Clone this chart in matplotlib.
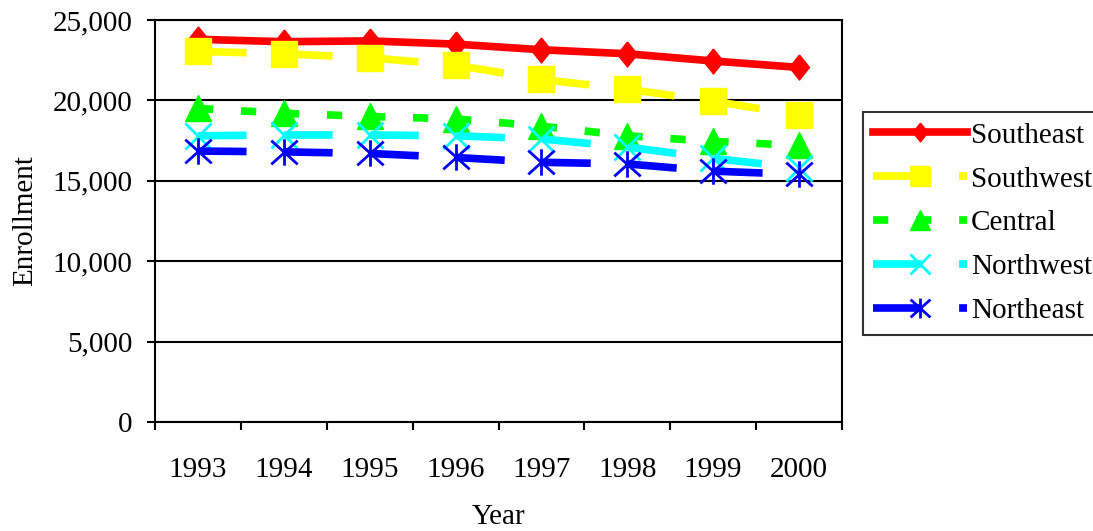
import matplotlib
matplotlib.use('Agg')
import matplotlib.pyplot as plt
from matplotlib.path import Path
from matplotlib.ticker import FuncFormatter, FixedLocator

years = ['1993', '1994', '1995', '1996', '1997', '1998', '1999', '2000']
southeast = [23800, 23650, 23700, 23500, 23150, 22900, 22450, 22050]
southwest = [23050, 22900, 22650, 22200, 21300, 20700, 19950, 19100]
central = [19500, 19200, 19000, 18850, 18400, 17800, 17450, 17200]
northwest = [17800, 17850, 17850, 17800, 17600, 17100, 16400, 15800]
northeast = [16850, 16800, 16700, 16450, 16150, 16050, 15600, 15400]

plt.rcParams['font.family'] = ['Liberation Serif', 'DejaVu Serif']
plt.rcParams['lines.scale_dashes'] = False

# custom marker shapes
diamond = Path([(0, 1), (0.8, 0), (0, -1), (-0.8, 0), (0, 1)])
asterisk = Path([(0, 1), (0, -1), (-1, -0.9), (1, 0.9), (-1, 0.9), (1, -0.9)],
                [Path.MOVETO, Path.LINETO, Path.MOVETO, Path.LINETO,
                 Path.MOVETO, Path.LINETO])

fig = plt.figure(figsize=(10.93, 5.31), dpi=100)
ax = fig.add_axes([155 / 1093, 1 - 422 / 531, 687 / 1093, 402 / 531])

x = range(len(years))
lw = 5.5
ax.plot(x, southeast, color='#FF0000', lw=lw, marker=diamond, ms=18,
        mec='#FF0000', label='Southeast', zorder=3)
ax.plot(x, southwest, color='#FFFF00', lw=lw, dashes=(35, 27), marker='s', ms=19,
        mec='#FFFF00', label='Southwest', zorder=3)
ax.plot(x, central, color='#00FF00', lw=lw, dashes=(11, 20), marker='^', ms=19,
        mec='#00FF00', label='Central', zorder=3)
ax.plot(x, northwest, color='#00FFFF', lw=lw, dashes=(35, 27), marker='x', ms=19,
        mew=2, label='Northwest', zorder=3)
ax.plot(x, northeast, color='#0000FF', lw=lw, dashes=(35, 27), marker=asterisk, ms=19,
        mew=2, label='Northeast', zorder=3)

ax.set_xlim(-0.5, len(years) - 0.5)
ax.set_ylim(0, 25000)
ax.set_xticks(list(x))
ax.set_xticklabels(years)
ax.xaxis.set_minor_locator(FixedLocator([i - 0.5 for i in range(len(years) + 1)]))
ax.tick_params(axis='x', which='major', length=0, pad=25, labelsize=21)
ax.tick_params(axis='x', which='minor', length=6, width=1.5, direction='out')
ax.set_yticks(range(0, 25001, 5000))
ax.yaxis.set_major_formatter(FuncFormatter(lambda v, p: f'{int(v):,}'))
ax.tick_params(axis='y', length=6, width=1.5, direction='out', pad=10, labelsize=21)
ax.grid(axis='y', color='black', lw=1.5)
ax.set_axisbelow(True)
for s in ax.spines.values():
    s.set_linewidth(1.5)
    s.set_color('black')

ax.set_xlabel('Year', fontsize=21)
ax.xaxis.set_label_coords(0.5, -0.205)
ax.set_ylabel('Enrollment', fontsize=21)
ax.yaxis.set_label_coords(-0.17, 0.5)

leg = ax.legend(loc='upper left', bbox_to_anchor=(863 / 1093, 1 - 112 / 531),
                bbox_transform=fig.transFigure, fontsize=21, frameon=True,
                fancybox=False, edgecolor='black', handlelength=3.2,
                handletextpad=0.15, labelspacing=0.6, borderpad=0.35,
                borderaxespad=0, markerscale=0.75)
leg.get_frame().set_linewidth(1.5)

fig.savefig('out.png', dpi=100)
